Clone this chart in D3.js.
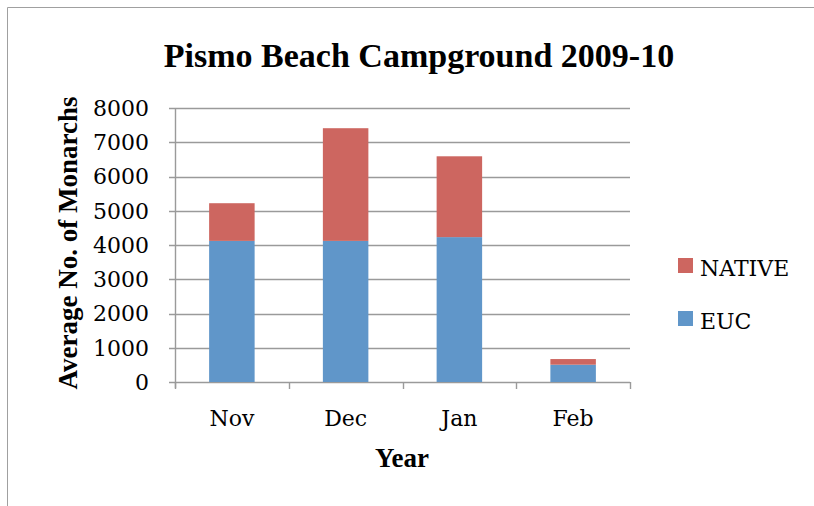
<!DOCTYPE html>
<html>
<head>
<meta charset="utf-8">
<script src="https://cdn.jsdelivr.net/npm/d3@7"></script>
<style>
  body { margin: 0; background: #fff; }
  text { font-family: "DejaVu Serif", "Liberation Serif", serif; fill: #000; }
  text.bold { font-family: "Liberation Serif", "DejaVu Serif", serif; font-weight: bold; }
</style>
</head>
<body>
<svg class="svg-main" width="814" height="506"></svg>
<script>
const months = ["Nov", "Dec", "Jan", "Feb"];
const euc = [4120, 4120, 4230, 505];
const native = [1100, 3290, 2360, 165];
const yTicks = [0, 1000, 2000, 3000, 4000, 5000, 6000, 7000, 8000];
const seriesNames = ["EUC", "NATIVE"];
const colors = { EUC: "#6096c9", NATIVE: "#cd6660" };

const svg = d3.select('.svg-main');

// outer frame
svg.append("path")
  .attr("d", "M7.5,506 V7.5 H814")
  .attr("fill", "none")
  .attr("stroke", "#a0a0a0")
  .attr("stroke-width", 1);

const rows = months.map((m, i) => ({ month: m, EUC: euc[i], NATIVE: native[i] }));
const stacked = d3.stack().keys(seriesNames)(rows);

const plot = { left: 175, right: 630, top: 108, bottom: 382 };

const x = d3.scaleBand()
  .domain(months)
  .range([plot.left, plot.right])
  .paddingInner(0.6)
  .paddingOuter(0.3);

const xOuter = d3.scaleBand().domain(months).range([plot.left, plot.right]);

const y = d3.scaleLinear()
  .domain([0, 8000])
  .range([plot.bottom, plot.top]);

// gridlines
svg.append("g")
  .selectAll("line")
  .data(yTicks)
  .enter().append("line")
    .attr("x1", plot.left - 6)
    .attr("x2", plot.right)
    .attr("y1", (d) => Math.round(y(d)) + 0.5)
    .attr("y2", (d) => Math.round(y(d)) + 0.5)
    .attr("stroke", "#9a9a9a")
    .attr("stroke-width", 1.4);

// y axis line
svg.append("line")
  .attr("x1", plot.left + 0.5).attr("x2", plot.left + 0.5)
  .attr("y1", plot.top).attr("y2", plot.bottom + 6)
  .attr("stroke", "#9a9a9a")
  .attr("stroke-width", 1.4);

// x ticks between categories
const xTickPos = months.map((m) => xOuter(m)).concat([plot.right]);
svg.append("g")
  .selectAll("line")
  .data(xTickPos)
  .enter().append("line")
    .attr("x1", (d) => Math.round(d) + 0.5)
    .attr("x2", (d) => Math.round(d) + 0.5)
    .attr("y1", plot.bottom)
    .attr("y2", plot.bottom + 7)
    .attr("stroke", "#9a9a9a")
    .attr("stroke-width", 1.4);

// bars
svg.append("g")
  .selectAll("g")
  .data(stacked)
  .enter().append("g")
    .attr("fill", (d) => colors[d.key])
  .selectAll("rect")
  .data((d) => d)
  .enter().append("rect")
    .attr("x", (d) => x(d.data.month))
    .attr("width", x.bandwidth())
    .attr("y", (d) => y(d[1]))
    .attr("height", (d) => y(d[0]) - y(d[1]));

// y tick labels
svg.append("g")
  .selectAll("text")
  .data(yTicks)
  .enter().append("text")
    .attr("x", 149)
    .attr("y", (d) => y(d))
    .attr("dy", "0.36em")
    .attr("text-anchor", "end")
    .style("font-size", "22px")
    .text((d) => d);

// x tick labels
svg.append("g")
  .selectAll("text")
  .data(months)
  .enter().append("text")
    .attr("x", (d) => xOuter(d) + xOuter.bandwidth() / 2)
    .attr("y", 426)
    .attr("text-anchor", "middle")
    .style("font-size", "22px")
    .text((d) => d);

// title
svg.append("text")
  .attr("class", "bold")
  .attr("x", 419)
  .attr("y", 67)
  .attr("text-anchor", "middle")
  .style("font-size", "34px")
  .text("Pismo Beach Campground 2009-10");

// axis titles
svg.append("text")
  .attr("class", "bold")
  .attr("x", 402)
  .attr("y", 467)
  .attr("text-anchor", "middle")
  .style("font-size", "27px")
  .text("Year");

svg.append("text")
  .attr("class", "bold")
  .attr("transform", "translate(77,243) rotate(-90)")
  .attr("text-anchor", "middle")
  .style("font-size", "27px")
  .text("Average No. of Monarchs");

// legend
const legendItems = ["NATIVE", "EUC"];
const legend = svg.append("g")
  .selectAll("g")
  .data(legendItems)
  .enter().append("g")
    .attr("transform", (d, i) => `translate(678,${258 + i * 53})`);

legend.append("rect")
  .attr("width", 15)
  .attr("height", 15)
  .attr("fill", (d) => colors[d]);

legend.append("text")
  .attr("x", 22)
  .attr("y", 18)
  .style("font-size", "22px")
  .text((d) => d);
</script>
</body>
</html>
